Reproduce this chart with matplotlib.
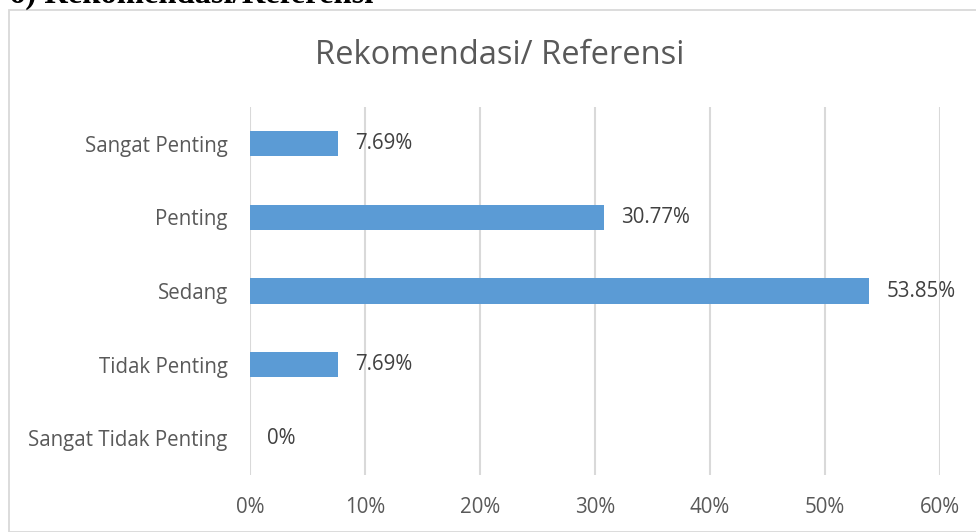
import matplotlib
matplotlib.use("Agg")
import matplotlib.pyplot as plt
from matplotlib.patches import Rectangle
from matplotlib.ticker import FuncFormatter

categories = ["Sangat Penting", "Penting", "Sedang", "Tidak Penting", "Sangat Tidak Penting"]
values = [7.69, 30.77, 53.85, 7.69, 0]
labels = ["7.69%", "30.77%", "53.85%", "7.69%", "0%"]
xticks = [0, 10, 20, 30, 40, 50, 60]

W, H = 976, 532
fig = plt.figure(figsize=(W / 100, H / 100), dpi=100)
fig.patch.set_facecolor("white")

font = ["Open Sans", "DejaVu Sans"]
fs = 14.8

# chart border
fig.patches.append(Rectangle((8.5 / W, 0), 1.2, 1 - 9.5 / H, transform=fig.transFigure,
                             fill=False, edgecolor="#D9D9D9", linewidth=1.3))
# clipped heading above the chart
fig.text(9 / W, 1 - 3 / H, "6) Rekomendasi/Referensi", family="Liberation Serif",
         fontweight="bold", fontsize=23.5, va="baseline", ha="left", color="black")

ax = fig.add_axes([250 / W, 1 - 475 / H, 690 / W, 368 / H])
ypos = list(range(len(categories)))
ax.barh(ypos, values, height=0.34, color="#5B9BD5", zorder=3)
ax.set_ylim(len(categories) - 0.5, -0.5)
ax.set_xlim(xticks[0], xticks[-1])
ax.set_xticks(xticks)
ax.xaxis.set_major_formatter(FuncFormatter(lambda v, p: f"{v:.0f}%"))
ax.set_yticks(ypos)
ax.set_yticklabels(categories)
ax.grid(axis="x", color="#D9D9D9", linewidth=1.5, zorder=0)
for s in ax.spines.values():
    s.set_visible(False)
ax.tick_params(axis="both", length=0, labelsize=fs, colors="#595959")
ax.tick_params(axis="x", pad=16)
ax.tick_params(axis="y", pad=16)
for t in ax.get_xticklabels() + ax.get_yticklabels():
    t.set_family(font)

for y, v, lab in zip(ypos, values, labels):
    ax.annotate(lab, (v, y), xytext=(17, 0), textcoords="offset pixels",
                va="center", ha="left", fontsize=fs, color="#404040", family=font)

fig.text(500 / W, 1 - 55 / H, "Rekomendasi/ Referensi", ha="center", va="center",
         fontsize=23.5, color="#595959", family=font)

fig.savefig("out.png", dpi=100, facecolor="white")
